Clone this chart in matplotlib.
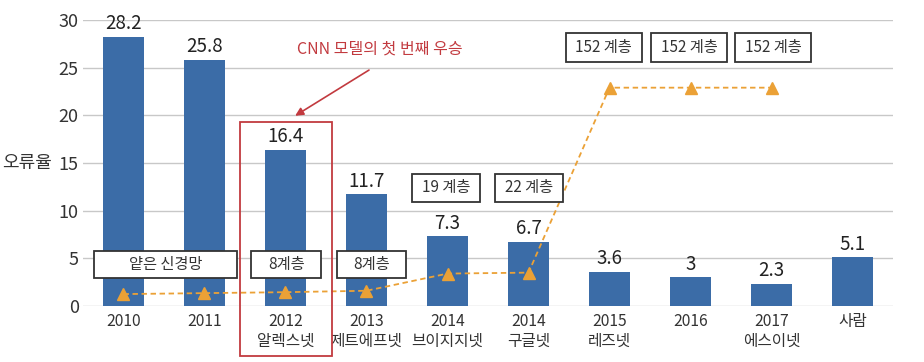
import matplotlib.pyplot as plt
from matplotlib.patches import Rectangle

plt.rcParams['font.family'] = ['Noto Sans CJK KR', 'DejaVu Sans']

# data
models = ['2010', '2011', '2012\n알렉스넷', '2013\n제트에프넷', '2014\n브이지지넷',
          '2014\n구글넷', '2015\n레즈넷', '2016', '2017\n에스이넷', '사람']
error_rate = [28.2, 25.8, 16.4, 11.7, 7.3, 6.7, 3.6, 3, 2.3, 5.1]
depth_marker = [1.25, 1.35, 1.45, 1.6, 3.4, 3.5, 22.9, 22.9, 22.9]

# layer boxes: (x center, y center, width, height, text)
layer_boxes = [
    (0.52, 4.35, 1.77, 2.85, '얕은 신경망'),
    (2.01, 4.35, 0.86, 2.85, '8계층'),
    (3.06, 4.35, 0.86, 2.85, '8계층'),
    (3.98, 12.4, 0.84, 2.95, '19 계층'),
    (5.01, 12.4, 0.84, 2.95, '22 계층'),
    (5.93, 27.1, 0.93, 3.0, '152 계층'),
    (6.98, 27.1, 0.93, 3.0, '152 계층'),
    (8.02, 27.1, 0.93, 3.0, '152 계층'),
]

bar_color = '#3b6ca7'
line_color = '#eba136'
red = '#c23a3f'

fig = plt.figure(figsize=(9.24, 3.62), dpi=100)
ax = fig.add_axes([0.0898, 0.1547, 0.8767, 0.7901])

x = list(range(len(models)))
ax.bar(x, error_rate, width=0.5, color=bar_color, zorder=2)
for xi, v in zip(x, error_rate):
    ax.text(xi, v + 0.3, f'{v:g}', ha='center', va='bottom', fontsize=13.5, color='#222222', zorder=5)

ax.plot(range(len(depth_marker)), depth_marker, color=line_color, linestyle=(0, (3, 2)),
        linewidth=1.3, marker='^', markersize=8, zorder=4)

for cx, cy, w, h, t in layer_boxes:
    ax.add_patch(Rectangle((cx - w / 2, cy - h / 2), w, h, facecolor='white',
                           edgecolor='#333333', linewidth=1.3, zorder=6))
    ax.text(cx, cy, t, ha='center', va='center', fontsize=11, color='#333333', zorder=7)

# highlight around 2012
ax.add_patch(Rectangle((1.44, -5.2), 1.14, 24.5, facecolor='none', edgecolor=red,
                       linewidth=1.3, clip_on=False, zorder=8))
ax.annotate('', xy=(2.09, 19.8), xytext=(3.06, 24.9),
            arrowprops=dict(arrowstyle='-|>', color=red, lw=1.2, mutation_scale=12))
ax.text(3.17, 26.9, 'CNN 모델의 첫 번째 우승', color=red, fontsize=11.5, ha='center', va='center')

ax.set_xlim(-0.5, 9.5)
ax.set_ylim(0, 30)
ax.set_yticks([0, 5, 10, 15, 20, 25, 30])
ax.set_xticks(x)
ax.set_xticklabels(models, fontsize=11.3, color='#333333', linespacing=1.25)
ax.tick_params(axis='y', labelsize=13, colors='#333333', length=0, pad=3)
ax.tick_params(axis='x', length=0, pad=5)
ax.grid(axis='y', color='#c8c8c8', linewidth=1, zorder=0)
ax.set_axisbelow(True)
for s in ax.spines.values():
    s.set_visible(False)
ax.text(-0.069, 0.5, '오류율', transform=ax.transAxes, fontsize=13, ha='center', va='center', color='#333333')

fig.savefig('out.png', dpi=100)
